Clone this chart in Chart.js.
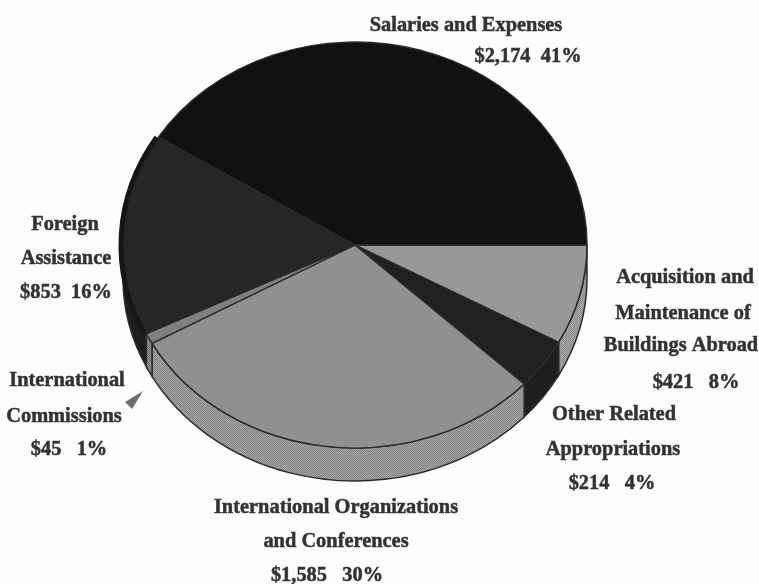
<!DOCTYPE html>
<html>
<head>
<meta charset="utf-8">
<style>
  html, body { margin: 0; padding: 0; background: #fdfdfd; }
  canvas { display: block; filter: blur(0.4px); }
</style>
<script src="https://cdn.jsdelivr.net/npm/chart.js@4/dist/chart.umd.js"></script>
</head>
<body>
<canvas id="chartBudget" width="759" height="584"></canvas>
<script>
// Slices, clockwise from 3 o'clock
const categories = [
  'Acquisition and Maintenance of Buildings Abroad',
  'Other Related Appropriations',
  'International Organizations and Conferences',
  'International Commissions',
  'Foreign Assistance',
  'Salaries and Expenses'
];
const amounts = [421, 214, 1585, 45, 853, 2174];

// Label text
const labelLines = [
  'Salaries and Expenses', '$2,174  41%',
  'Foreign', 'Assistance', '$853  16%',
  'International', 'Commissions', '$45   1%',
  'Acquisition and', 'Maintenance of', 'Buildings Abroad', '$421   8%',
  'Other Related', 'Appropriations', '$214   4%',
  'International Organizations', 'and Conferences', '$1,585   30%'
];
const labelX = [466, 528, 65, 66, 66, 67, 64, 69, 685, 683, 681, 696, 614, 613, 612, 336, 336, 327];
const labelY = [26, 57, 225, 259, 293, 381, 417, 450, 278, 314, 346, 383, 415, 450, 484, 508, 542, 576];

// Ellipse of the tilted pie
const pieX = 355, pieY = 245, pieRx = 232, pieRy = 203, pieDepth = 33;
const edgeColor = '#2b2b2b';

function dither(a, b) {
  const c = document.createElement('canvas');
  c.width = c.height = 2;
  const g = c.getContext('2d');
  g.fillStyle = a;
  g.fillRect(0, 0, 2, 2);
  g.fillStyle = b;
  g.fillRect(0, 0, 1, 1);
  g.fillRect(1, 1, 1, 1);
  return g.createPattern(c, 'repeat');
}

const topColors = [
  dither('#b0b0b0', '#808080'),
  '#202020',
  dither('#a8a8a8', '#787878'),
  dither('#9a9a9a', '#666666'),
  dither('#303030', '#1c1c1c'),
  '#111111'
];
const sideColors = [
  dither('#aaaaaa', '#8a8a8a'),
  '#1e1e1e',
  dither('#a6a6a6', '#848484'),
  dither('#969696', '#747474'),
  '#1e1e1e',
  '#111111'
];

const tiltedPie = {
  id: 'tiltedPie',
  beforeDatasetsDraw(chart) {
    const ctx = chart.ctx;
    const arcs = chart.getDatasetMeta(0).data;
    // side wall, only the front half shows
    arcs.forEach((arc, i) => {
      const a = Math.max(arc.startAngle, 0);
      const b = Math.min(arc.endAngle, Math.PI);
      if (b <= a) return;
      ctx.beginPath();
      ctx.ellipse(pieX, pieY, pieRx, pieRy, 0, a, b);
      ctx.ellipse(pieX, pieY + pieDepth, pieRx, pieRy, 0, b, a, true);
      ctx.closePath();
      ctx.fillStyle = sideColors[i];
      ctx.fill();
      ctx.lineWidth = 1.5;
      ctx.strokeStyle = edgeColor;
      ctx.stroke();
    });
    const arc = arcs[0];
    ctx.save();
    ctx.translate(pieX, pieY);
    ctx.scale(pieRx / arc.outerRadius, pieRy / pieRx);
    ctx.translate(-arc.x, -arc.y);
  },
  afterDatasetsDraw(chart) {
    const ctx = chart.ctx;
    ctx.restore();

    // dark rim on the Foreign Assistance slice
    const foreign = chart.getDatasetMeta(0).data[4];
    ctx.beginPath();
    ctx.ellipse(pieX - 1, pieY, pieRx + 1, pieRy, 0, foreign.startAngle, foreign.endAngle);
    ctx.lineWidth = 5;
    ctx.strokeStyle = '#161616';
    ctx.stroke();

    // pointer next to International Commissions
    ctx.beginPath();
    ctx.moveTo(143, 391);
    ctx.lineTo(125, 402);
    ctx.lineTo(132, 409);
    ctx.closePath();
    ctx.fillStyle = '#6e6e6e';
    ctx.fill();

    ctx.fillStyle = '#333333';
    ctx.strokeStyle = '#333333';
    ctx.lineWidth = 0.5;
    ctx.font = 'bold 20.4px "Liberation Serif"';
    ctx.textAlign = 'center';
    ctx.textBaseline = 'middle';
    labelLines.forEach((t, i) => {
      ctx.fillText(t, labelX[i], labelY[i]);
      ctx.strokeText(t, labelX[i], labelY[i]);
    });
  }
};

new Chart(document.getElementById('chartBudget'), {
  type: 'pie',
  data: {
    labels: categories,
    datasets: [{
      data: amounts,
      backgroundColor: topColors,
      borderColor: edgeColor,
      borderWidth: 1.5,
      clip: false
    }]
  },
  options: {
    responsive: false,
    animation: false,
    rotation: 90,
    radius: pieRx,
    plugins: { legend: { display: false }, tooltip: { enabled: false } }
  },
  plugins: [tiltedPie]
});
</script>
</body>
</html>
